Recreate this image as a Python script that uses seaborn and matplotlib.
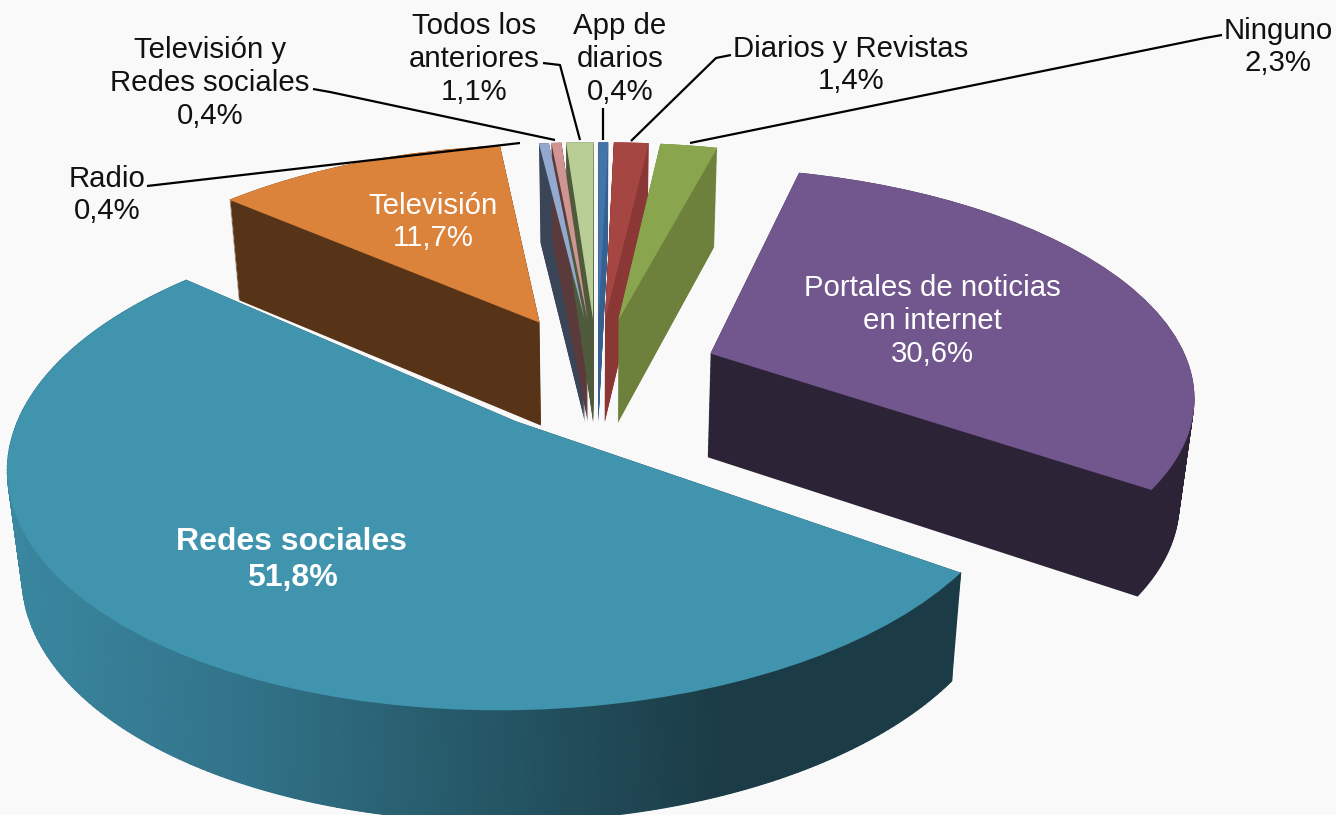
import numpy as np
import matplotlib
matplotlib.use('Agg')
import matplotlib.pyplot as plt
from matplotlib.transforms import Transform
import seaborn as sns

# clockwise from the top of the pie
categories = ['App de diarios', 'Diarios y Revistas', 'Ninguno', 'Portales de noticias en internet',
              'Redes sociales', 'Televisión', 'Radio', 'Televisión y Redes sociales', 'Todos los anteriores']
values = [0.4, 1.4, 2.3, 30.6, 51.8, 11.7, 0.4, 0.4, 1.1]
value_labels = ['0,4%', '1,4%', '2,3%', '30,6%', '51,8%', '11,7%', '0,4%', '0,4%', '1,1%']

top_colors = ['#4474a8', '#a64643', '#89a54e', '#71578d', '#4094ae', '#db823b', '#93a9cf', '#d09493', '#b9cd96']
side_colors = ['#356090', '#8a3735', '#6d813c', '#2d2337', '#1b3c46', '#573317', '#3a4558', '#5a3a3a', '#4f5a3c']
draw_order = [7, 8, 9, 10, 11, 1, 3, 4, 5]  # far slices first, same order as categories
explode = [0.25, 0.25, 0.25, 0.255, 0.265, 0.265, 0.25, 0.25, 0.25]

N_LAYERS = 90


class TablePlane(Transform):
    # puts the flat pie on a table seen in perspective, depth 0 = top face, 1 = bottom face
    input_dims = 2
    output_dims = 2
    is_separable = False
    has_inverse = False

    def __init__(self, depth):
        super().__init__()
        self.cx = 597
        self.cy = 373 + 104 * depth
        self.a = 481 - 12 * depth
        self.b = 223 + 5 * depth
        self.k = 0.166

    def transform_non_affine(self, values):
        xy = np.asarray(values)
        w = 1 + self.k * xy[:, 1]
        return np.column_stack((self.cx + self.a * xy[:, 0] / w, self.cy - self.b * xy[:, 1] / w))


sns.set_theme(style='white')
plt.rcParams['font.family'] = ['Liberation Sans', 'DejaVu Sans']

fig = plt.figure(figsize=(13.36, 8.15), dpi=100, facecolor='#f9f9f9')
ax = fig.add_axes([0, 0, 1, 1])


def draw_pie(depth, colors, z_offset):
    wedges, _ = ax.pie(values, colors=colors, explode=explode, startangle=90,
                       counterclock=False, frame=True, radius=1, wedgeprops={'linewidth': 0})
    plane = TablePlane(depth)
    for wedge, order in zip(wedges, draw_order):
        wedge.set_transform(plane + ax.transData)
        wedge.set_zorder(order + z_offset)
    return wedges


# stack of dark copies makes the body, top face goes last
for depth in np.linspace(1, 0, N_LAYERS):
    draw_pie(depth, side_colors, 0.5 * (1 - depth))
top_wedges = draw_pie(0, top_colors, 20)

# shaded rim of the big slice
redes = top_wedges[categories.index('Redes sociales')]
angles = np.radians(np.linspace(redes.theta1, redes.theta2, 240))
rim_xy = np.column_stack((redes.center[0] + redes.r * np.cos(angles), redes.center[1] + redes.r * np.sin(angles)))
rim_top = TablePlane(0).transform(rim_xy)
rim_bottom = TablePlane(1).transform(rim_xy)
rim_x = np.vstack((rim_top[:, 0], rim_bottom[:, 0]))
rim_y = np.vstack((rim_top[:, 1], rim_bottom[:, 1]))
rim_cmap = sns.blend_palette(['#3a87a0', '#317288', '#255766', '#1b3c46', '#1b3c46'], as_cmap=True)
ax.pcolormesh(rim_x, rim_y, rim_x, cmap=rim_cmap, shading='gouraud', vmin=15, vmax=960,
              zorder=draw_order[categories.index('Redes sociales')] + 0.6)

# labels
txt = dict(ha='center', va='center', linespacing=1.22, zorder=50)
ax.text(210, 83, 'Televisión y\nRedes sociales\n' + value_labels[7], color='#111111', fontsize=21.2, **txt)
ax.text(107, 195, 'Radio\n' + value_labels[6], color='#111111', fontsize=21.2, **txt)
ax.text(474, 59, 'Todos los\nanteriores\n' + value_labels[8], color='#111111', fontsize=21.2, **txt)
ax.text(620, 59, 'App de\ndiarios\n' + value_labels[0], color='#111111', fontsize=21.2, **txt)
ax.text(851, 65, 'Diarios y Revistas\n' + value_labels[1], color='#111111', fontsize=21.2, **txt)
ax.text(1278, 47, 'Ninguno\n' + value_labels[2], color='#111111', fontsize=21.2, **txt)
ax.text(433, 222, 'Televisión\n' + value_labels[5], color='white', fontsize=21.2, **txt)
ax.text(932, 321, 'Portales de noticias\nen internet\n' + value_labels[3], color='white', fontsize=21.2, **txt)
ax.text(292, 560, 'Redes sociales\n' + value_labels[4], color='white', fontweight='bold', fontsize=23, **txt)

# leader lines
leaders = [([147, 520], [186, 143]),
           ([313, 330, 555], [89, 92, 140]),
           ([543, 560, 580], [63, 65, 140]),
           ([603, 603], [108, 140]),
           ([731, 716, 631], [55, 58, 141]),
           ([1222, 1205, 690], [35, 38, 143])]
for lx, ly in leaders:
    ax.plot(lx, ly, color='black', lw=1.6, zorder=45, solid_capstyle='butt')

ax.set_xlim(0, 1336)
ax.set_ylim(815, 0)
ax.set_aspect('auto')
ax.axis('off')

fig.savefig('out.png', dpi=100, facecolor=fig.get_facecolor())
